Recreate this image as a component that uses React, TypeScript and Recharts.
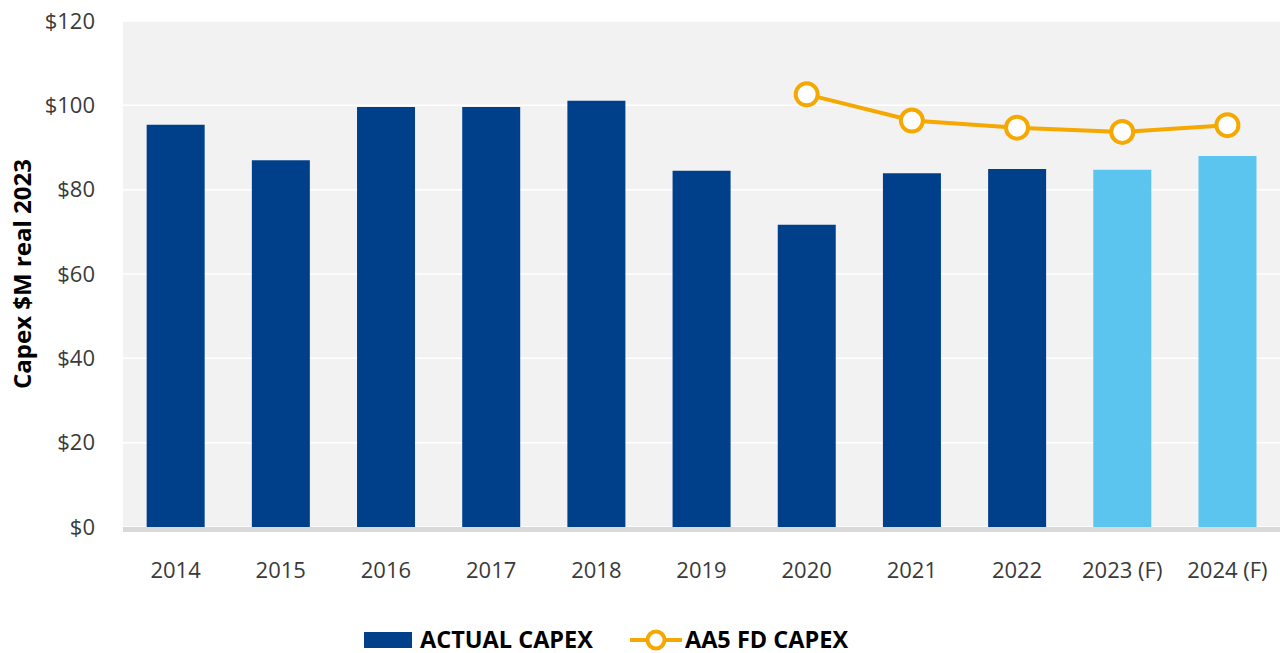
import * as React from "react"
import {
  ComposedChart,
  Bar,
  Line,
  Cell,
  XAxis,
  YAxis,
  CartesianGrid,
  Legend,
} from "recharts"

const years = ["2014", "2015", "2016", "2017", "2018", "2019", "2020", "2021", "2022", "2023 (F)", "2024 (F)"]
const actualCapex = [95.4, 87.0, 99.6, 99.6, 101.1, 84.5, 71.7, 83.9, 84.9, 84.7, 88.0]
const aa5Capex = [null, null, null, null, null, null, 102.6, 96.4, 94.7, 93.7, 95.3]
const forecast = [false, false, false, false, false, false, false, false, false, true, true]
const yTicks = [0, 20, 40, 60, 80, 100, 120]

const DARK = "#00408a"
const LIGHT = "#5bc5ef"
const GOLD = "#f5a800"
const FONT = "'Open Sans', 'Noto Sans', sans-serif"

const data = years.map((year, i) => ({
  year,
  actual: actualCapex[i],
  aa5: aa5Capex[i],
  forecast: forecast[i],
}))

function AxisTitle({ viewBox }: any) {
  const x = viewBox.x - 22
  const y = viewBox.y + viewBox.height / 2
  return (
    <text
      x={x}
      y={y}
      transform={`rotate(-90, ${x}, ${y})`}
      textAnchor="middle"
      dominantBaseline="central"
      fontFamily={FONT}
      fontWeight={700}
      fontSize={24}
      fill="#000"
    >
      Capex $M real 2023
    </text>
  )
}

// legend wrapper starts at the chart's left margin
function LegendContent() {
  const text = { fontFamily: FONT, fontWeight: 700, fontSize: 23.5, color: "#000", lineHeight: "24px" }
  return (
    <div style={{ position: "relative", height: 56 }}>
      <div style={{ position: "absolute", left: 321, top: 28, display: "flex", alignItems: "center" }}>
        <div style={{ width: 48, height: 16, background: DARK, marginTop: 3 }} />
        <span style={{ ...text, marginLeft: 8 }}>ACTUAL CAPEX</span>
        <svg width={52} height={24} style={{ marginLeft: 37, marginTop: 3 }}>
          <line x1={0} y1={12} x2={52} y2={12} stroke={GOLD} strokeWidth={4} />
          <circle cx={26} cy={12} r={8.5} fill="#fff" stroke={GOLD} strokeWidth={4} />
        </svg>
        <span style={{ ...text, marginLeft: 3 }}>AA5 FD CAPEX</span>
      </div>
    </div>
  )
}

export default function App() {
  return (
    <div style={{ position: "absolute", left: 0, top: 0, background: "#fff" }}>
      <ComposedChart
        width={1285}
        height={653}
        data={data}
        margin={{ top: 21, right: 5, bottom: 0, left: 43 }}
        barCategoryGap="22.5%"
      >
        <CartesianGrid
          vertical={false}
          fill="#f2f2f2"
          stroke="#ffffff"
          strokeWidth={1.5}
        />
        <XAxis
          dataKey="year"
          height={70}
          tickLine={false}
          tickSize={0}
          tickMargin={35}
          axisLine={{ stroke: "#d9d9d9", strokeWidth: 5, transform: "translate(0, 2.5)" }}
          tick={{ fontFamily: FONT, fontSize: 22, fill: "#3a3a3a" }}
          interval={0}
        />
        <YAxis
          width={80}
          domain={[0, 120]}
          ticks={yTicks}
          axisLine={false}
          tickLine={false}
          tickSize={0}
          tickMargin={28}
          tickFormatter={(v: number) => `$${v}`}
          tick={{ fontFamily: FONT, fontSize: 22, fill: "#3a3a3a" }}
          label={<AxisTitle />}
        />
        <Legend verticalAlign="bottom" height={56} content={<LegendContent />} />
        <Bar dataKey="actual" name="ACTUAL CAPEX" fill={DARK} isAnimationActive={false}>
          {data.map((d, i) => (
            <Cell key={`cell-${i}`} fill={d.forecast ? LIGHT : DARK} />
          ))}
        </Bar>
        <Line
          type="linear"
          dataKey="aa5"
          name="AA5 FD CAPEX"
          stroke={GOLD}
          strokeWidth={4}
          dot={{ r: 11, fill: "#fff", stroke: GOLD, strokeWidth: 4 }}
          activeDot={false}
          isAnimationActive={false}
        />
      </ComposedChart>
    </div>
  )
}
